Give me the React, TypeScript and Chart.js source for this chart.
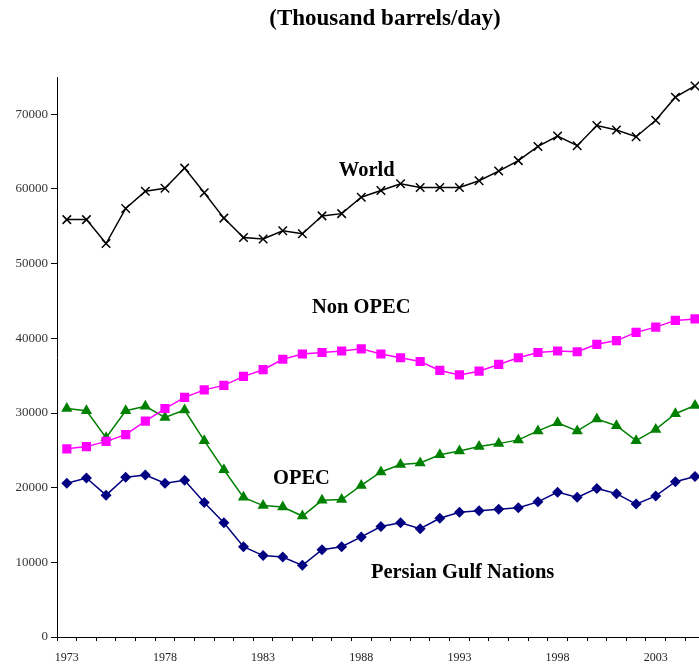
import React, { useEffect, useRef } from "react";
import { Chart, registerables } from "chart.js";

Chart.register(...registerables);

const years: string[] = [
  "1973", "1974", "1975", "1976", "1977", "1978", "1979", "1980", "1981", "1982", "1983",
  "1984", "1985", "1986", "1987", "1988", "1989", "1990", "1991", "1992", "1993", "1994",
  "1995", "1996", "1997", "1998", "1999", "2000", "2001", "2002", "2003", "2004", "2005",
];

const world: number[] = [
  55900, 55900, 52700, 57400, 59700, 60100, 62800, 59500, 56100, 53500, 53300,
  54400, 54000, 56400, 56700, 58900, 59800, 60700, 60200, 60200, 60200, 61100,
  62400, 63800, 65700, 67100, 65800, 68500, 67900, 67000, 69200, 72300, 73800,
];

const nonOpec: number[] = [
  25200, 25500, 26200, 27100, 28900, 30600, 32100, 33100, 33700, 34900, 35800,
  37200, 37900, 38100, 38300, 38600, 37900, 37400, 36900, 35700, 35100, 35600,
  36500, 37400, 38100, 38300, 38200, 39200, 39700, 40800, 41500, 42400, 42600,
];

const opec: number[] = [
  30600, 30300, 26700, 30300, 30900, 29400, 30400, 26300, 22400, 18700, 17600,
  17400, 16200, 18300, 18400, 20300, 22100, 23100, 23300, 24400, 24900, 25500,
  25900, 26400, 27600, 28700, 27600, 29200, 28300, 26300, 27800, 29900, 31000,
];

const persianGulf: number[] = [
  20600, 21300, 19000, 21400, 21700, 20600, 21000, 18000, 15300, 12100, 10900,
  10700, 9600, 11700, 12100, 13400, 14800, 15300, 14500, 15900, 16700, 16900,
  17100, 17300, 18100, 19400, 18700, 19900, 19200, 17800, 18900, 20800, 21500,
];

const yTickValues: number[] = [0, 10000, 20000, 30000, 40000, 50000, 60000, 70000];

const titleText = "(Thousand barrels/day)";

// series labels placed in data coordinates: [text, category index, value]
const seriesLabels: [string, number, number][] = [
  ["World", 15.28, 62400],
  ["Non OPEC", 15.0, 44100],
  ["OPEC", 11.95, 21200],
  ["Persian Gulf Nations", 20.16, 8600],
];

const SERIF = '"Liberation Serif", "Times New Roman", serif';

export default function App() {
  const ref = useRef<HTMLCanvasElement | null>(null);

  useEffect(() => {
    if (!ref.current) return;

    const textPlugin = {
      id: "textPlugin",
      afterDatasetsDraw(chart: any) {
        const ctx = chart.ctx;
        const xs = chart.scales.x;
        const ys = chart.scales.y;
        ctx.save();
        ctx.fillStyle = "#000";
        ctx.textAlign = "center";
        ctx.textBaseline = "middle";
        ctx.font = `bold 20.5px ${SERIF}`;
        for (const [t, idx, v] of seriesLabels) {
          ctx.fillText(t, xs.getPixelForValue(idx), ys.getPixelForValue(v));
        }
        ctx.font = `bold 23px ${SERIF}`;
        ctx.fillText(titleText, 385, 19);
        ctx.restore();
      },
    };

    const chart = new Chart(ref.current, {
      type: "line",
      data: {
        labels: years,
        datasets: [
          {
            label: "World",
            data: world,
            borderColor: "#000000",
            backgroundColor: "#000000",
            borderWidth: 1.5,
            pointStyle: "crossRot",
            pointRadius: 6,
            pointBorderWidth: 1.5,
            pointBorderColor: "#000000",
          },
          {
            label: "Non OPEC",
            data: nonOpec,
            borderColor: "#FF00FF",
            backgroundColor: "#FF00FF",
            borderWidth: 1.5,
            pointStyle: "rect",
            pointRadius: 6.5,
            pointBorderWidth: 0,
          },
          {
            label: "OPEC",
            data: opec,
            borderColor: "#008000",
            backgroundColor: "#008000",
            borderWidth: 1.5,
            pointStyle: "triangle",
            pointRadius: 6.5,
            pointBorderWidth: 0,
          },
          {
            label: "Persian Gulf Nations",
            data: persianGulf,
            borderColor: "#000080",
            backgroundColor: "#000080",
            borderWidth: 1.5,
            pointStyle: "rectRot",
            pointRadius: 5.5,
            pointBorderWidth: 0,
          },
        ],
      },
      options: {
        responsive: false,
        animation: false,
        devicePixelRatio: 1,
        layout: { padding: { top: 77, left: 0, right: 0, bottom: 0 }, autoPadding: false },
        plugins: {
          legend: { display: false },
          title: { display: false },
          tooltip: { enabled: false },
        },
        scales: {
          x: {
            type: "category",
            offset: true,
            grid: {
              offset: true,
              drawOnChartArea: false,
              drawTicks: true,
              tickLength: 4,
              tickColor: "#000",
            },
            border: { color: "#000", width: 1 },
            ticks: {
              autoSkip: false,
              maxRotation: 0,
              minRotation: 0,
              padding: 10,
              color: "#222",
              font: { family: SERIF, size: 12 },
              callback: (_v: any, i: number) => (i % 5 === 0 ? years[i] : ""),
            },
            afterFit: (s: any) => {
              s.height = 29;
            },
          },
          y: {
            min: 0,
            max: 75000,
            grid: {
              drawOnChartArea: false,
              drawTicks: true,
              tickLength: 6,
              tickColor: "#000",
            },
            border: { color: "#000", width: 1 },
            ticks: {
              padding: 3,
              color: "#333",
              font: { family: SERIF, size: 13 },
              callback: (v: any) => String(v),
            },
            afterBuildTicks: (s: any) => {
              s.ticks = yTickValues.map((v) => ({ value: v }));
            },
            afterFit: (s: any) => {
              s.width = 57;
            },
          },
        },
      },
      plugins: [textPlugin],
    });

    return () => chart.destroy();
  }, []);

  return (
    <div
      style={{
        position: "fixed",
        left: 0,
        top: 0,
        width: 699,
        height: 666,
        overflow: "hidden",
        background: "#fff",
      }}
    >
      <canvas ref={ref} width={705} height={666} style={{ display: "block" }} />
    </div>
  );
}
